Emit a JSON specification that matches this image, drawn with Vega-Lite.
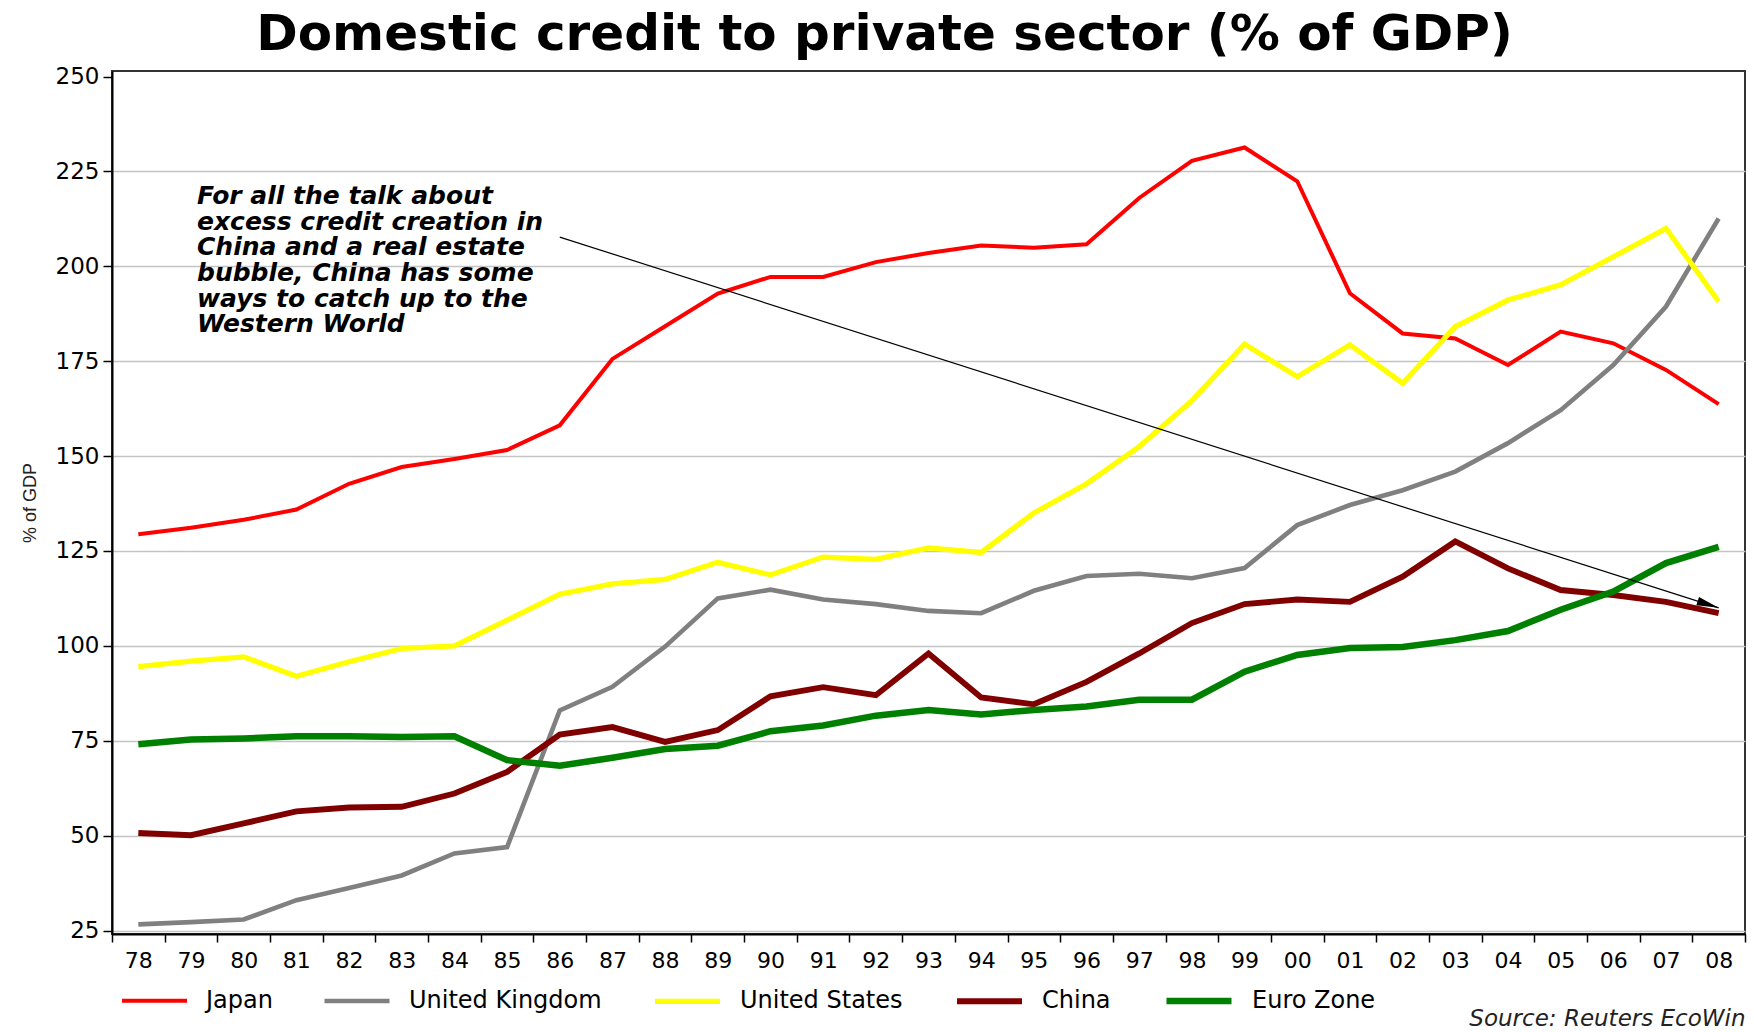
{
  "$schema": "https://vega.github.io/schema/vega-lite/v6.json",
  "width": 1633,
  "height": 863,
  "autosize": {"type": "none"},
  "padding": {"left": 112, "top": 71, "right": 9, "bottom": 98},
  "background": "white",
  "title": {
    "text": "Domestic credit to private sector (% of GDP)",
    "font": "DejaVu Sans",
    "fontSize": 50,
    "fontWeight": "bold",
    "color": "black",
    "anchor": "middle",
    "dx": -44,
    "offset": 6
  },
  "config": {
    "view": {"stroke": "#333333", "strokeWidth": 2},
    "axis": {"domainColor": "black", "domainWidth": 2, "tickColor": "black", "tickWidth": 1.5, "labelColor": "black"}
  },
  "datasets": {
    "credit": [
      {"yr": "78", "Japan": 129.4, "United Kingdom": 26.6, "United States": 94.5, "China": 50.7, "Euro Zone": 74.1},
      {"yr": "79", "Japan": 131.1, "United Kingdom": 27.2, "United States": 96.0, "China": 50.1, "Euro Zone": 75.3},
      {"yr": "80", "Japan": 133.2, "United Kingdom": 27.9, "United States": 97.1, "China": 53.2, "Euro Zone": 75.6},
      {"yr": "81", "Japan": 135.9, "United Kingdom": 33.0, "United States": 92.0, "China": 56.4, "Euro Zone": 76.2},
      {"yr": "82", "Japan": 142.7, "United Kingdom": 36.2, "United States": 95.8, "China": 57.4, "Euro Zone": 76.2},
      {"yr": "83", "Japan": 147.1, "United Kingdom": 39.5, "United States": 99.3, "China": 57.6, "Euro Zone": 76.0},
      {"yr": "84", "Japan": 149.2, "United Kingdom": 45.3, "United States": 100.0, "China": 61.1, "Euro Zone": 76.2},
      {"yr": "85", "Japan": 151.6, "United Kingdom": 47.0, "United States": 106.8, "China": 66.8, "Euro Zone": 69.9},
      {"yr": "86", "Japan": 158.1, "United Kingdom": 83.0, "United States": 113.6, "China": 76.6, "Euro Zone": 68.4},
      {"yr": "87", "Japan": 175.6, "United Kingdom": 89.2, "United States": 116.3, "China": 78.6, "Euro Zone": 70.5},
      {"yr": "88", "Japan": 184.2, "United Kingdom": 99.8, "United States": 117.5, "China": 74.7, "Euro Zone": 72.8},
      {"yr": "89", "Japan": 192.8, "United Kingdom": 112.5, "United States": 122.0, "China": 77.8, "Euro Zone": 73.7},
      {"yr": "90", "Japan": 197.2, "United Kingdom": 114.8, "United States": 118.7, "China": 86.7, "Euro Zone": 77.5},
      {"yr": "91", "Japan": 197.2, "United Kingdom": 112.2, "United States": 123.4, "China": 89.1, "Euro Zone": 79.0},
      {"yr": "92", "Japan": 201.1, "United Kingdom": 111.0, "United States": 122.8, "China": 87.0, "Euro Zone": 81.6},
      {"yr": "93", "Japan": 203.5, "United Kingdom": 109.2, "United States": 125.8, "China": 98.0, "Euro Zone": 83.1},
      {"yr": "94", "Japan": 205.5, "United Kingdom": 108.6, "United States": 124.6, "China": 86.4, "Euro Zone": 81.9},
      {"yr": "95", "Japan": 204.9, "United Kingdom": 114.5, "United States": 135.0, "China": 84.6, "Euro Zone": 83.1},
      {"yr": "96", "Japan": 205.8, "United Kingdom": 118.4, "United States": 142.7, "China": 90.5, "Euro Zone": 84.0},
      {"yr": "97", "Japan": 218.0, "United Kingdom": 119.0, "United States": 152.5, "China": 98.0, "Euro Zone": 85.8},
      {"yr": "98", "Japan": 227.8, "United Kingdom": 117.8, "United States": 164.6, "China": 106.0, "Euro Zone": 85.8},
      {"yr": "99", "Japan": 231.3, "United Kingdom": 120.5, "United States": 179.5, "China": 111.0, "Euro Zone": 93.2},
      {"yr": "00", "Japan": 222.4, "United Kingdom": 131.8, "United States": 170.9, "China": 112.2, "Euro Zone": 97.6},
      {"yr": "01", "Japan": 192.9, "United Kingdom": 137.1, "United States": 179.3, "China": 111.6, "Euro Zone": 99.4},
      {"yr": "02", "Japan": 182.3, "United Kingdom": 141.0, "United States": 169.2, "China": 118.2, "Euro Zone": 99.7},
      {"yr": "03", "Japan": 181.0, "United Kingdom": 145.9, "United States": 184.1, "China": 127.5, "Euro Zone": 101.5},
      {"yr": "04", "Japan": 174.0, "United Kingdom": 153.4, "United States": 191.1, "China": 120.4, "Euro Zone": 103.9},
      {"yr": "05", "Japan": 182.8, "United Kingdom": 162.1, "United States": 195.1, "China": 114.7, "Euro Zone": 109.5},
      {"yr": "06", "Japan": 179.7, "United Kingdom": 174.0, "United States": 202.5, "China": 113.4, "Euro Zone": 114.3},
      {"yr": "07", "Japan": 172.7, "United Kingdom": 189.4, "United States": 210.0, "China": 111.6, "Euro Zone": 121.8},
      {"yr": "08", "Japan": 163.7, "United Kingdom": 212.6, "United States": 190.7, "China": 108.6, "Euro Zone": 126.1}
    ]
  },
  "layer": [
    {
      "data": {"name": "credit"},
      "transform": [{"fold": ["Japan", "United Kingdom", "United States", "China", "Euro Zone"], "as": ["series", "value"]}],
      "mark": {"type": "line"},
      "encoding": {
        "x": {
          "field": "yr", "type": "ordinal",
          "scale": {"type": "band", "paddingInner": 0, "paddingOuter": 0,
            "domain": ["78","79","80","81","82","83","84","85","86","87","88","89","90","91","92","93","94","95","96","97","98","99","00","01","02","03","04","05","06","07","08"]},
          "axis": {
            "title": "Source: Reuters EcoWin",
            "titleFont": "DejaVu Sans", "titleFontStyle": "italic", "titleFontWeight": "normal",
            "titleFontSize": 23, "titleColor": "#222222", "titleAnchor": "end", "titlePadding": 36,
            "labelAngle": 0, "labelFont": "DejaVu Sans", "labelFontSize": 22, "labelPadding": 8,
            "tickBand": "extent", "tickSize": 8, "grid": false
          }
        },
        "y": {
          "field": "value", "type": "quantitative",
          "scale": {"domain": [24.08, 251.45], "nice": false, "zero": false},
          "axis": {
            "values": [25, 50, 75, 100, 125, 150, 175, 200, 225, 250],
            "title": "% of GDP", "titleFont": "Liberation Sans", "titleFontSize": 18, "titleFontWeight": "normal",
            "titleColor": "#222222", "titlePadding": 16,
            "labelFont": "DejaVu Sans", "labelFontSize": 23, "labelPadding": 4, "tickSize": 9,
            "grid": true,
            "gridColor": {"condition": {"test": "datum.value === 250", "value": "transparent"}, "value": "#c4c4c4"},
            "gridWidth": 1.5
          }
        },
        "color": {
          "field": "series", "type": "nominal",
          "scale": {"domain": ["Japan", "United Kingdom", "United States", "China", "Euro Zone"],
                    "range": ["#ff0000", "#808080", "#ffff00", "#800000", "#008000"]},
          "legend": {
            "orient": "none", "legendX": 8, "legendY": 894, "direction": "horizontal",
            "title": null, "symbolType": "stroke", "symbolSize": 4225, "symbolStrokeWidth": 6,
            "labelFont": "DejaVu Sans", "labelFontSize": 24, "labelColor": "black", "labelLimit": 0,
            "labelOffset": 17, "columnPadding": 42, "padding": 0
          }
        },
        "strokeWidth": {
          "field": "series", "type": "nominal",
          "scale": {"domain": ["Japan", "United Kingdom", "United States", "China", "Euro Zone"],
                    "range": [4, 6.5, 5, 6, 5.5]},
          "legend": null
        }
      }
    },
    {
      "data": {"values": [{"note": "For all the talk about\nexcess credit creation in\nChina and a real estate\nbubble, China has some\nways to catch up to the\nWestern World"}]},
      "mark": {"type": "text", "align": "left", "baseline": "top", "dx": 6,
               "font": "DejaVu Sans", "fontSize": 25, "fontWeight": "bold", "fontStyle": "italic",
               "lineBreak": "\n", "lineHeight": 25.6, "color": "black"},
      "encoding": {
        "x": {"datum": "79", "type": "ordinal"},
        "y": {"datum": 221.6, "type": "quantitative"},
        "text": {"field": "note"}
      }
    },
    {
      "data": {"values": [{}]},
      "mark": {"type": "rule", "color": "black", "strokeWidth": 1.2},
      "encoding": {
        "x": {"datum": "86", "type": "ordinal"},
        "y": {"datum": 207.7, "type": "quantitative"},
        "x2": {"datum": "08"},
        "y2": {"datum": 110}
      }
    },
    {
      "data": {"values": [{}]},
      "mark": {"type": "point", "shape": "M-1,-0.4L1,0L-1,0.4Z", "size": 484, "filled": true,
               "color": "black", "opacity": 1, "angle": 17.8, "xOffset": -10.5, "yOffset": -3.4},
      "encoding": {
        "x": {"datum": "08", "type": "ordinal"},
        "y": {"datum": 110, "type": "quantitative"}
      }
    }
  ]
}
